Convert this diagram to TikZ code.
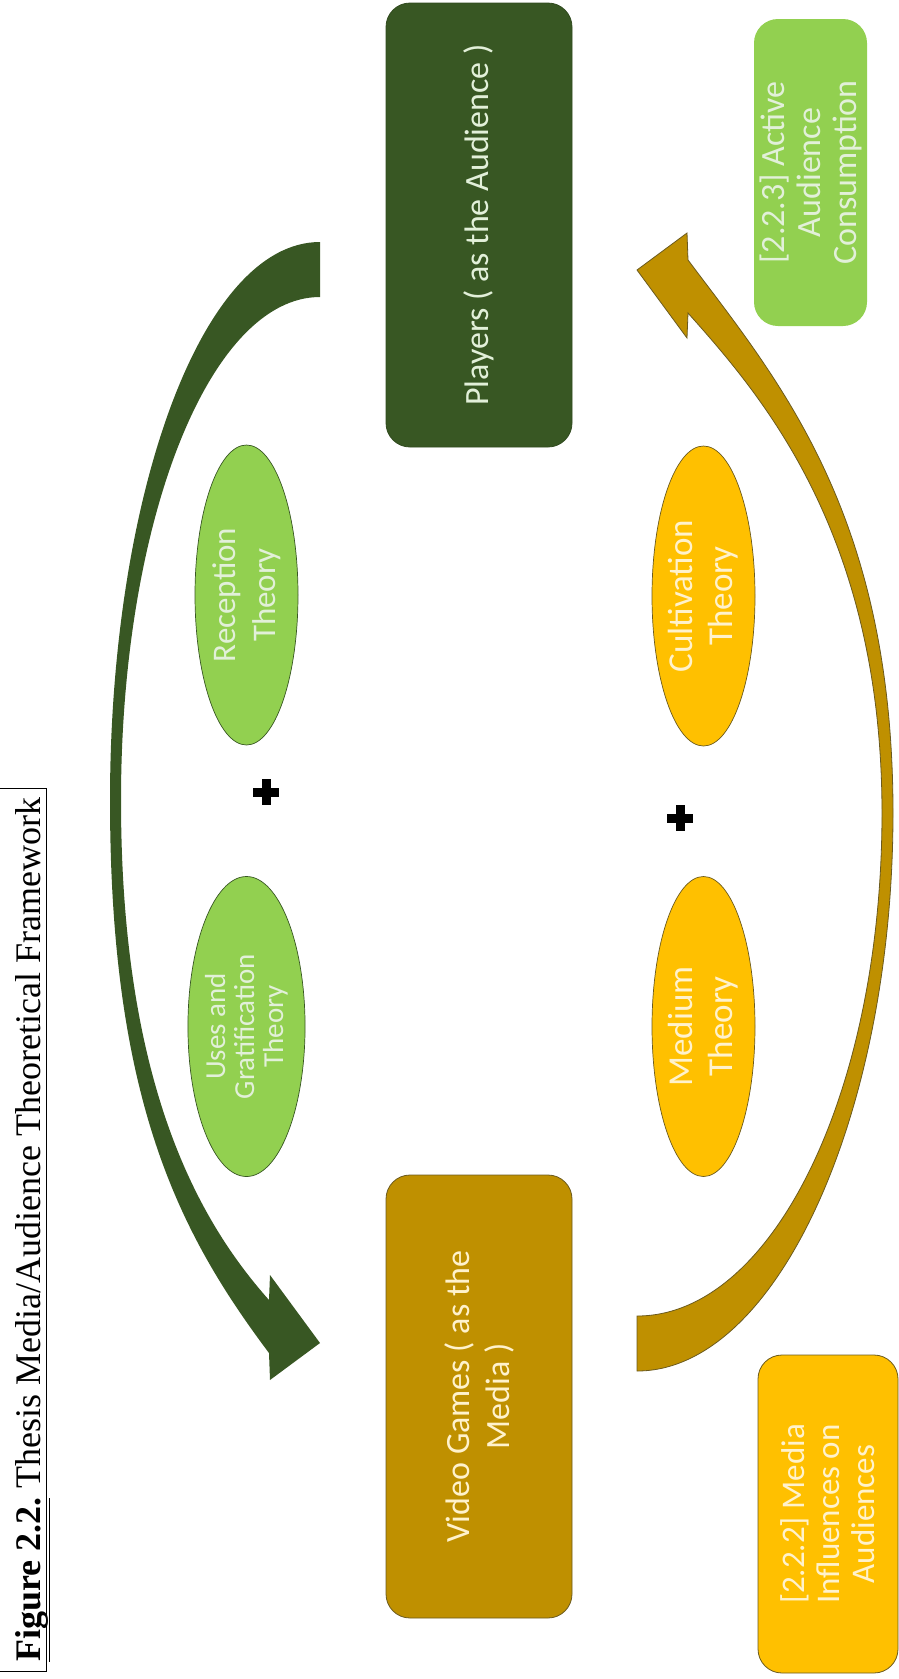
\documentclass[tikz,border=0pt]{standalone}
\usepackage{fontspec}
\setmainfont{Carlito}
\newfontfamily\timesfont{Liberation Serif}
\usetikzlibrary{shapes.geometric}
\definecolor{dkgreen}{HTML}{385723}
\definecolor{ltgreen}{HTML}{92D050}
\definecolor{gold}{HTML}{BF9000}
\definecolor{amber}{HTML}{FFC000}
\definecolor{paleg}{HTML}{E2F0D9}
\definecolor{palegold}{HTML}{FFF2CC}
\definecolor{brownline}{HTML}{6B5A1E}
\begin{document}
\begin{tikzpicture}[x=1pt,y=-1pt,
  bigfont/.style={font=\fontsize{34}{40}\selectfont},
  rbox/.style={rounded corners=24pt, rotate=90, inner sep=0pt, align=center},
  oval/.style={ellipse, rotate=90, inner sep=0pt, align=center,
    minimum width=300pt, minimum height=103pt, line width=0.7pt},
  greenoval/.style={oval, fill=ltgreen, draw=dkgreen, text=paleg},
  goldoval/.style={oval, fill=amber, draw=brownline, text=palegold},
  plussign/.style={fill=black}]
\useasboundingbox (0,0) rectangle (899,1679);
\clip (0,0) rectangle (899,1679);

% title frame
\draw[line width=1pt] (-5,788) rectangle (46,1671);
\node[rotate=90, anchor=base west, inner sep=0pt,
  font=\timesfont\fontsize{36}{40}\selectfont] (title) at (40,1662)
  {\underline{\textbf{Figure 2.2.}} Thesis Media/Audience Theoretical Framework};

% curved arrows
\fill[dkgreen] (320,242) .. controls (200,242) and (110,500) .. (110,800)
  .. controls (110,1100) and (179,1233) .. (269,1353)
  -- (270,1380) -- (320,1343) -- (270,1275) -- (269,1300)
  .. controls (196,1218) and (121,1080) .. (121,800)
  .. controls (121,520) and (210,297) .. (320,297) -- cycle;
\filldraw[fill=gold, draw=brownline, line width=0.8pt]
  (637,1371) .. controls (777,1371) and (893,1113) .. (893,813)
  .. controls (893,513) and (778,380) .. (688,260)
  -- (687,233) -- (637,270) -- (687,338) -- (688,313)
  .. controls (761,395) and (882,533) .. (882,813)
  .. controls (882,1093) and (772,1316) .. (637,1316) -- cycle;

% main boxes
\node[rbox, bigfont, fill=dkgreen, draw=dkgreen!85!black, line width=0.8pt,
  minimum width=444pt, minimum height=186pt, text=paleg] (players) at (479,225)
  {Players ( as the Audience )};
\node[rbox, bigfont, fill=gold, draw=brownline, line width=0.8pt,
  minimum width=443pt, minimum height=186pt, text=palegold] (games) at (479,1396.5)
  {Video Games ( as the\\Media )};

% section boxes
\node[rbox, font=\fontsize{34}{36}\selectfont, fill=ltgreen,
  minimum width=307pt, minimum height=113pt, text=paleg] (active) at (810.5,172.5)
  {[2.2.3] Active\\Audience\\Consumption};
\node[rbox, font=\fontsize{33}{35}\selectfont, fill=amber, draw=brownline, line width=0.8pt,
  minimum width=318pt, minimum height=140pt, text=palegold] (influence) at (828,1514)
  {[2.2.2] Media\\Influences on\\Audiences};

% theory ovals
\node[greenoval, font=\fontsize{33}{40}\selectfont] (reception) at (246.5,595) {Reception\\Theory};
\node[greenoval, font=\fontsize{29}{29}\selectfont] (uses) at (246.5,1026.5) {Uses and\\Gratification\\Theory};
\node[goldoval, font=\fontsize{35}{40}\selectfont] (cultivation) at (703.5,596) {Cultivation\\Theory};
\node[goldoval, font=\fontsize{35}{40}\selectfont] (medium) at (703.5,1026.5) {Medium\\Theory};

% plus signs
\coordinate (plusA) at (266,792);
\coordinate (plusB) at (680,818);
\foreach \p in {plusA,plusB}{
  \fill[plussign] ([xshift=-13pt,yshift=-4.5pt]\p) rectangle ([xshift=13pt,yshift=4.5pt]\p);
  \fill[plussign] ([xshift=-4.5pt,yshift=-13pt]\p) rectangle ([xshift=4.5pt,yshift=13pt]\p);
}
\end{tikzpicture}
\end{document}
